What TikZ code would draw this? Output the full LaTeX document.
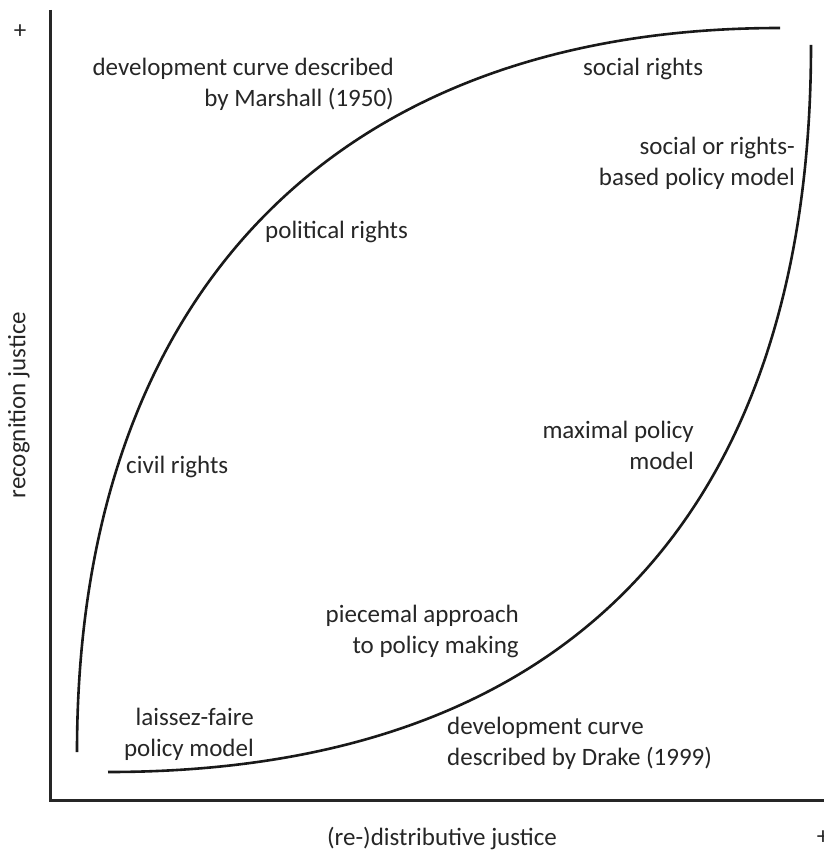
\documentclass[tikz,border=0pt]{standalone}
\usepackage{fontspec}
\setmainfont{Carlito}
\usetikzlibrary{positioning}
\tikzset{lbl/.style={inner sep=0pt, font=\fontsize{25}{31}\selectfont, text=black!85}}
\tikzset{axis/.style={line width=3pt, black!85}}
\tikzset{curve/.style={line width=2.6pt, black!90}}

\begin{document}
\begin{tikzpicture}[x=1pt, y=-1pt]
        \useasboundingbox (0,0) rectangle (823,850);
        % axes
        \coordinate (Top) at (50, 10);
        \coordinate (O) at (50, 800);
        \coordinate (Right) at (830, 800);
        \draw[axis] (Top) -- (O) -- (Right);
        \node[lbl] (PlusY) at (20, 32) {+};
        \node[lbl] (PlusX) at (823, 838) {+};
        \node[lbl] (AxX) at (442, 838) {(re-)distributive justice};
        \node[lbl, rotate=90] (AxY) at (19, 405) {recognition justice};
        % development curves
        \coordinate (M0) at (77, 752);
        \coordinate (M1) at (780, 28);
        \coordinate (D0) at (108, 772);
        \coordinate (D1) at (811, 45);
        \draw[curve] (M0) .. controls (77, 300) and (330, 28) .. (M1);
        \draw[curve] (D0) .. controls (600, 772) and (811, 480) .. (D1);
        % labels
        \node[lbl, align=right, anchor=north east] (Marshall) at (394, 58) {development curve described\\by Marshall (1950)};
        \node[lbl, anchor=north west] (Social) at (583, 58) {social rights};
        \node[lbl, align=right, anchor=north east] (RightsModel) at (795, 137) {social or rights-\\based policy model};
        \node[lbl, anchor=north west] (Political) at (265, 221) {political rights};
        \node[lbl, anchor=north west] (Civil) at (126, 456) {civil rights};
        \node[lbl, align=right, anchor=north east] (Maximal) at (694, 421) {maximal policy\\model};
        \node[lbl, align=right, anchor=north east] (Piecemeal) at (519, 605) {piecemal approach\\to policy making};
        \node[lbl, align=right, anchor=north east] (Laissez) at (254, 708) {laissez-faire\\policy model};
        \node[lbl, align=left, anchor=north west] (Drake) at (447, 717) {development curve\\described by Drake (1999)};
    \end{tikzpicture}
\end{document}
